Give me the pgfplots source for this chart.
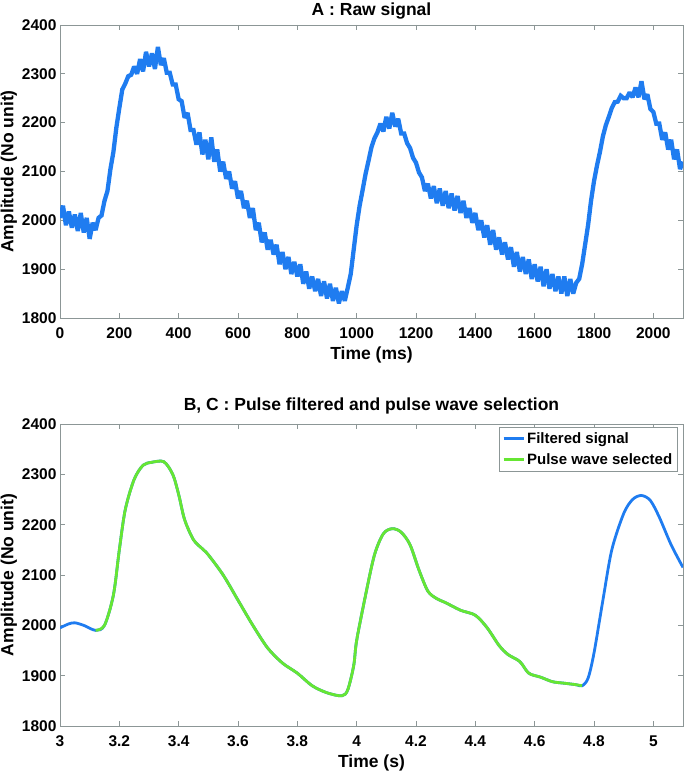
\documentclass[border=0pt]{standalone}
\usepackage{fontspec}
\setmainfont{Liberation Sans}
\usepackage{pgfplots}
\pgfplotsset{compat=1.18}
\definecolor{sigblue}{RGB}{31,124,240}
\definecolor{siggreen}{RGB}{102,230,51}
\definecolor{axgray}{RGB}{140,150,150}
\pgfplotsset{
  myaxis/.style={
    scale only axis,
    width=623pt,
    ymin=1800, ymax=2400,
    ytick={1800,1900,...,2400},
    axis line style={axgray, line width=0.8pt},
    tick style={axgray, line width=0.8pt},
    major tick length=5pt,
    tick align=inside,
    xtick pos=both, ytick pos=both,
    /pgf/number format/assume math mode=true,
    /pgf/number format/1000 sep={},
    tick label style={font=\fontsize{15.5}{17}\selectfont\bfseries},
    xticklabel style={yshift=-6pt},
    label style={font=\fontsize{17.5}{20}\selectfont\bfseries},
    title style={font=\fontsize{17.5}{20}\selectfont\bfseries},
    ylabel={Amplitude (No unit)},
    ylabel style={yshift=-2pt},
    xlabel style={yshift=-1pt},
  }
}
\begin{document}
\begin{tikzpicture}
\path[use as bounding box] (0,0) rectangle (685pt,773pt);
\begin{axis}[myaxis, at={(60pt,455pt)}, anchor=south west,
  height=293pt, xmin=0, xmax=2100,
  xtick={0,200,...,2000},
  xlabel={Time (ms)}, title={A : Raw signal}, title style={yshift=-4pt}]
\addplot[sigblue, line width=4.3pt, line join=miter, miter limit=2] coordinates {
(0,2005)(10,2030)(20,1990)(30,2018)(40,1985)(50,2012)(60,1978)(70,2015)(80,1975)(90,2005)
(100,1962)(110,1995)(120,1980)(130,2005)(140,2010)(150,2040)(160,2060)(170,2105)(180,2140)(190,2190)
(200,2230)(210,2268)(220,2280)(230,2295)(240,2298)(250,2315)(260,2300)(270,2330)(280,2305)(290,2345)
(300,2315)(310,2342)(320,2310)(330,2355)(340,2318)(350,2332)(360,2302)(370,2302)(380,2278)(390,2278)
(400,2248)(410,2244)(420,2210)(430,2220)(440,2185)(450,2185)(460,2155)(470,2180)(480,2135)(490,2165)
(500,2125)(510,2170)(520,2120)(530,2145)(540,2100)(550,2120)(560,2085)(570,2100)(580,2065)(590,2080)
(600,2045)(610,2060)(620,2025)(630,2040)(640,2005)(650,2025)(660,1980)(670,1995)(680,1955)(690,1975)
(700,1940)(710,1960)(720,1930)(730,1950)(740,1910)(750,1935)(760,1900)(770,1925)(780,1890)(790,1915)
(800,1885)(810,1910)(820,1870)(830,1895)(840,1860)(850,1885)(860,1855)(870,1880)(880,1845)(890,1875)
(900,1840)(910,1870)(920,1835)(930,1862)(940,1830)(950,1855)(960,1835)(970,1862)(980,1890)(990,1940)
(1000,1990)(1010,2030)(1020,2062)(1030,2095)(1040,2122)(1050,2150)(1060,2168)(1070,2180)(1080,2198)(1090,2182)
(1100,2212)(1110,2188)(1120,2220)(1130,2192)(1140,2208)(1150,2178)(1160,2178)(1170,2158)(1180,2148)(1190,2128)
(1200,2118)(1210,2098)(1220,2088)(1230,2060)(1240,2075)(1250,2045)(1260,2070)(1270,2035)(1280,2065)(1290,2030)
(1300,2060)(1310,2025)(1320,2055)(1330,2020)(1340,2050)(1350,2015)(1360,2040)(1370,2005)(1380,2025)(1390,1995)
(1400,2015)(1410,1980)(1420,2000)(1430,1965)(1440,1990)(1450,1950)(1460,1980)(1470,1940)(1480,1965)(1490,1930)
(1500,1955)(1510,1920)(1520,1945)(1530,1905)(1540,1935)(1550,1895)(1560,1925)(1570,1890)(1580,1920)(1590,1880)
(1600,1910)(1610,1875)(1620,1905)(1630,1865)(1640,1900)(1650,1860)(1660,1890)(1670,1855)(1680,1885)(1690,1850)
(1700,1885)(1710,1845)(1720,1880)(1730,1850)(1740,1872)(1750,1880)(1760,1910)(1770,1950)(1780,1990)(1790,2040)
(1800,2080)(1810,2112)(1820,2140)(1830,2172)(1840,2195)(1850,2212)(1860,2230)(1870,2242)(1880,2243)(1890,2255)
(1900,2250)(1910,2250)(1920,2262)(1930,2252)(1940,2272)(1950,2252)(1960,2285)(1970,2248)(1980,2258)(1990,2228)
(2000,2222)(2010,2198)(2020,2198)(2030,2165)(2040,2180)(2050,2145)(2060,2165)(2070,2125)(2080,2145)(2090,2105)
(2100,2120)
};
\end{axis}
\begin{axis}[myaxis, at={(60pt,47pt)}, anchor=south west,
  height=302pt, xmin=3, xmax=5.1,
  xtick={3,3.2,...,5.01},
  xlabel={Time (s)}, title={B, C : Pulse filtered and pulse wave selection},
  title style={yshift=0pt},
  legend style={at={(0.991,0.99)}, anchor=north east, draw=axgray,
    font=\fontsize{15}{17}\selectfont\bfseries, inner sep=3pt,
    /tikz/every row 0 column 1/.style={}, row sep=5pt},
  legend cell align=left,
  legend image code/.code={\draw[#1, line width=2.8pt] (0pt,0pt) -- (20pt,0pt);}]
\addplot[sigblue, line width=2.8pt, smooth, tension=0.5] coordinates {
(3.00,1995)(3.03,2003)(3.05,2005)(3.08,2000)(3.12,1990)(3.15,2000)(3.18,2060)(3.20,2150)(3.22,2230)
(3.25,2290)(3.28,2318)(3.31,2324)(3.35,2325)(3.38,2300)(3.40,2260)(3.42,2210)(3.45,2170)(3.48,2152)
(3.50,2140)(3.55,2100)(3.60,2050)(3.65,2000)(3.70,1955)(3.75,1925)(3.80,1905)(3.85,1880)(3.90,1866)
(3.95,1860)(3.97,1872)(3.99,1920)(4.00,1970)(4.03,2060)(4.06,2140)(4.09,2182)(4.12,2192)(4.15,2185)
(4.18,2160)(4.21,2110)(4.24,2068)(4.27,2053)(4.30,2045)(4.35,2030)(4.40,2020)(4.44,1995)(4.48,1960)
(4.51,1942)(4.55,1928)(4.58,1905)(4.62,1897)(4.66,1888)(4.70,1885)(4.74,1882)(4.76,1880)(4.78,1895)
(4.80,1945)(4.83,2050)(4.86,2150)(4.90,2222)(4.93,2250)(4.96,2258)(4.99,2248)(5.02,2215)(5.06,2160)
(5.10,2115)
};
\addlegendentry{Filtered signal}
\addplot[siggreen, line width=2.8pt, smooth, tension=0.5] coordinates {
(3.12,1990)(3.15,2000)(3.18,2060)(3.20,2150)(3.22,2230)
(3.25,2290)(3.28,2318)(3.31,2324)(3.35,2325)(3.38,2300)(3.40,2260)(3.42,2210)(3.45,2170)(3.48,2152)
(3.50,2140)(3.55,2100)(3.60,2050)(3.65,2000)(3.70,1955)(3.75,1925)(3.80,1905)(3.85,1880)(3.90,1866)
(3.95,1860)(3.97,1872)(3.99,1920)(4.00,1970)(4.03,2060)(4.06,2140)(4.09,2182)(4.12,2192)(4.15,2185)
(4.18,2160)(4.21,2110)(4.24,2068)(4.27,2053)(4.30,2045)(4.35,2030)(4.40,2020)(4.44,1995)(4.48,1960)
(4.51,1942)(4.55,1928)(4.58,1905)(4.62,1897)(4.66,1888)(4.70,1885)(4.74,1882)(4.76,1880)
};
\addlegendentry{Pulse wave selected}
\end{axis}
\end{tikzpicture}
\end{document}
